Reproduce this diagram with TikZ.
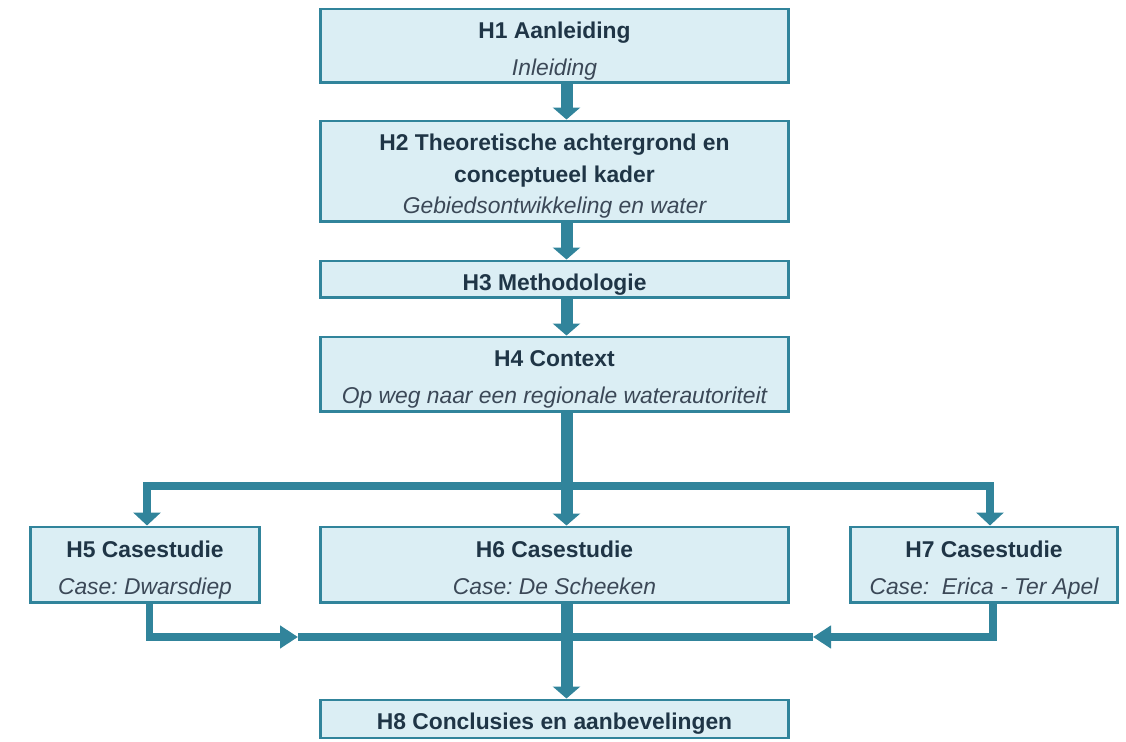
\documentclass[tikz,border=0pt]{standalone}
\usepackage{fontspec}
\setmainfont{Liberation Sans}
\usetikzlibrary{arrows.meta}
\definecolor{boxfill}{HTML}{DBEEF4}
\definecolor{boxline}{HTML}{31849B}
\definecolor{headtext}{HTML}{1F3546}
\definecolor{subtext}{HTML}{3B4857}
% headings get a tall strut, subtitles a fixed depth, so every box sets its text alike
\newcommand{\kop}[1]{{\rule{0pt}{15pt}\bfseries\color{headtext}#1}}
\newcommand{\ondertitel}[1]{{\itshape\color{subtext}#1\rule[-2.8pt]{0pt}{2.8pt}}}
\frenchspacing

\begin{document}
\begin{tikzpicture}
        % styles: chapter boxes and the two arrow widths
        [x=0.02cm, y=-0.02cm,
        ChapNode/.style={rectangle, draw=boxline, fill=boxfill, line width=1.7pt, align=center, inner sep=0pt,
            font=\fontsize{13}{21}\selectfont},
        MainArrow/.style={draw=boxline, line width=0.24cm, -{Triangle[width=0.54cm, length=0.24cm]}},
        SideArrow/.style={draw=boxline, line width=0.16cm}]

        % page size
        \useasboundingbox (0,0) rectangle (1126,742);

        % chapters H1 to H4, one under the other
        \node[ChapNode, minimum width=9.38cm, minimum height=1.48cm] (h1) at (554.5,46) {\kop{H1 Aanleiding}\\\ondertitel{Inleiding}};
        \node[ChapNode, minimum width=9.38cm, minimum height=2.02cm, font=\fontsize{13}{18}\selectfont] (h2) at (554.5,171.5) {\kop{H2 Theoretische achtergrond en}\\\kop{conceptueel kader}\\\ondertitel{Gebiedsontwikkeling en water}};
        \node[ChapNode, minimum width=9.38cm, minimum height=0.74cm] (h3) at (554.5,279.5) {\kop{H3 Methodologie}};
        \node[ChapNode, minimum width=9.38cm, minimum height=1.5cm] (h4) at (554.5,374.5) {\kop{H4 Context}\\\ondertitel{Op weg naar een regionale waterautoriteit}};

        % the three case studies
        \node[ChapNode, minimum width=4.6cm, minimum height=1.52cm] (h5) at (145,565) {\kop{H5 Casestudie}\\\ondertitel{Case: Dwarsdiep}};
        \node[ChapNode, minimum width=9.38cm, minimum height=1.52cm] (h6) at (554.5,565) {\kop{H6 Casestudie}\\\ondertitel{Case: De Scheeken}};
        \node[ChapNode, minimum width=5.36cm, minimum height=1.52cm] (h7) at (984,565) {\kop{H7 Casestudie}\\\ondertitel{Case:~ Erica - Ter Apel}};

        % conclusions
        \node[ChapNode, minimum width=9.38cm, minimum height=0.76cm] (h8) at (554.5,719) {\kop{H8 Conclusies en aanbevelingen}};

        % arrows down the main column
        \draw[MainArrow] ([xshift=0.24cm]h1.south) -- ([xshift=0.24cm]h2.north);
        \draw[MainArrow] ([xshift=0.24cm]h2.south) -- ([xshift=0.24cm]h3.north);
        \draw[MainArrow] ([xshift=0.24cm]h3.south) -- ([xshift=0.24cm]h4.north);
        \draw[MainArrow] ([xshift=0.24cm]h4.south) -- ([xshift=0.24cm]h6.north);

        % branch to H5 and H7
        \coordinate (split) at (567,486);
        \draw[SideArrow, {Triangle[width=0.54cm, length=0.26cm]}-{Triangle[width=0.54cm, length=0.26cm]}]
            ([xshift=0.04cm]h5.north) |- (split) -| ([xshift=0.12cm]h7.north);

        % back together to H8
        \coordinate (merge) at (567,637);
        \coordinate (lefttip) at (298,637);
        \coordinate (righttip) at (813,637);
        \draw[SideArrow, -{Triangle[width=0.44cm, length=0.36cm]}] ([xshift=0.09cm]h5.south) |- (lefttip);
        \draw[SideArrow] (lefttip) -- (merge);
        \draw[SideArrow, -{Triangle[width=0.44cm, length=0.36cm]}] ([xshift=0.18cm]h7.south) |- (righttip);
        \draw[SideArrow] (righttip) -- (merge);
        \draw[MainArrow] ([xshift=0.24cm]h6.south) -- ([xshift=0.24cm]h8.north);
    \end{tikzpicture}
\end{document}
